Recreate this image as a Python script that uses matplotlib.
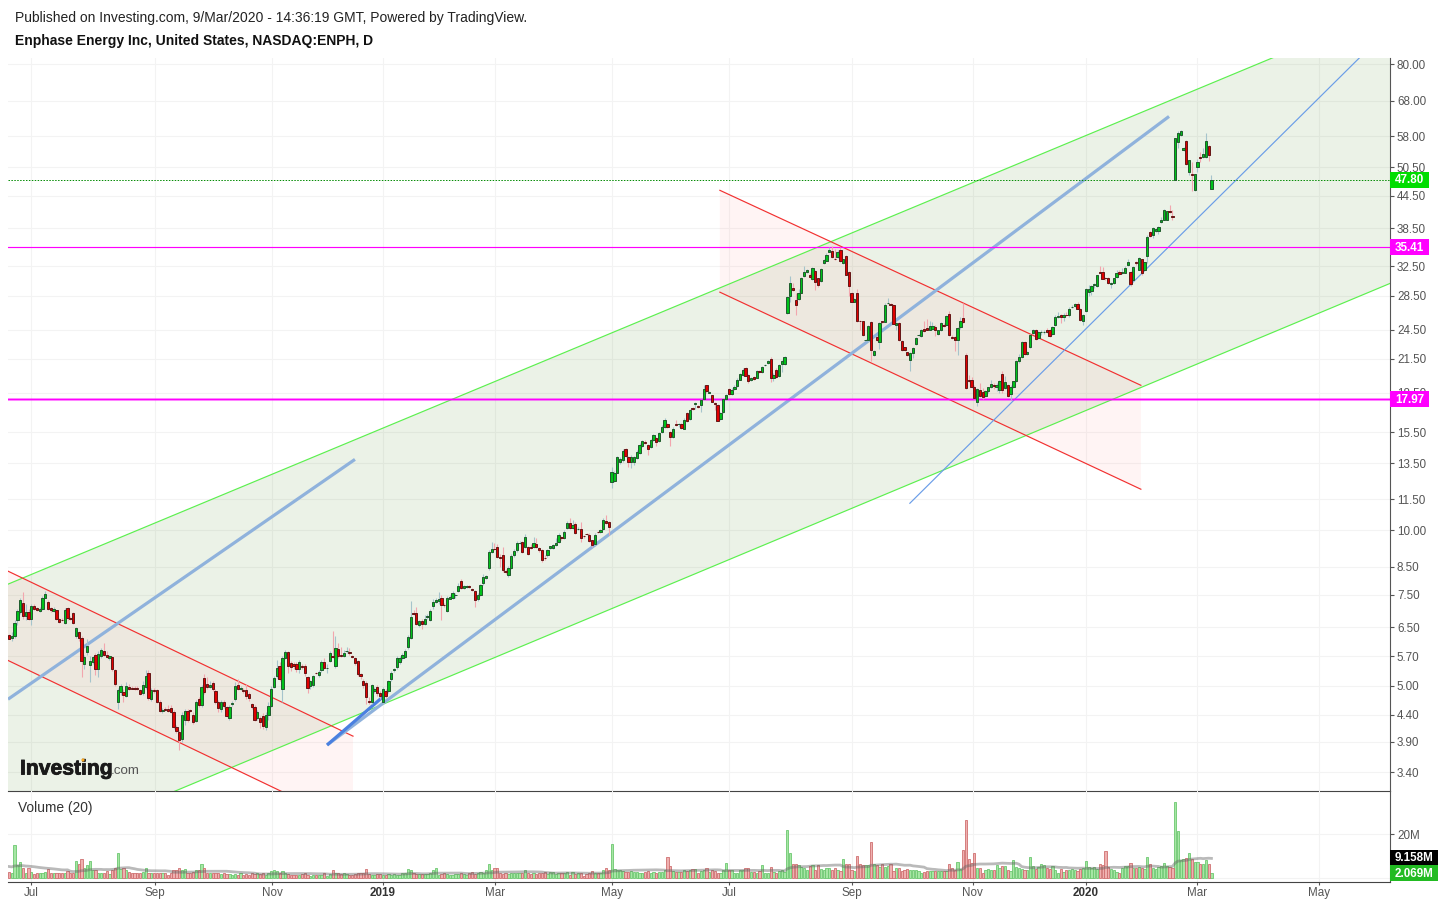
import matplotlib
matplotlib.use('Agg')
import matplotlib.pyplot as plt
import matplotlib.patheffects as pe
from matplotlib.patches import Polygon, Rectangle, Circle
from matplotlib.transforms import IdentityTransform
import numpy as np
import pandas as pd

plt.rcParams['font.family'] = ['Liberation Sans', 'DejaVu Sans']

# daily bars, prices (log scale)
opens = [
    6.27,6.18,6.24,6.72,6.95,7.25,6.82,6.95,6.74,7.15,
    7.07,6.98,7.04,7.41,7.28,7.07,6.98,7.0,6.74,6.72,
    6.62,7.07,6.77,6.92,6.24,6.35,6.19,5.5,5.82,5.48,
    5.55,5.73,5.4,5.71,5.84,5.75,5.65,5.69,5.37,4.65,
    4.87,4.87,4.78,4.97,4.96,4.96,4.96,4.9,4.85,4.98,
    5.29,4.72,4.9,4.9,4.66,4.46,4.5,4.51,4.53,4.45,
    4.16,4.07,3.94,4.29,4.47,4.48,4.4,4.28,4.71,4.6,
    5.17,5.05,4.97,5.06,4.89,4.66,4.5,4.66,4.55,4.34,
    4.61,4.72,5.01,4.93,4.91,4.91,4.82,4.61,4.56,4.34,
    4.34,4.37,4.17,4.39,4.58,4.98,5.22,5.47,4.94,5.67,
    5.82,5.53,5.5,5.5,5.38,5.47,5.47,5.2,4.99,5.01,
    5.3,5.25,5.36,5.57,5.41,5.59,5.7,5.47,5.9,5.75,
    5.71,5.84,5.82,5.7,5.65,5.58,5.27,5.12,5.06,4.68,
    4.66,4.89,4.98,4.85,4.66,4.89,4.88,5.15,5.37,5.43,
    5.55,5.66,5.68,5.95,6.2,6.91,6.93,6.55,6.69,6.58,
    6.8,6.72,7.13,7.28,7.31,7.4,7.18,6.97,7.38,7.41,
    7.49,7.65,7.99,7.75,7.78,7.82,7.69,7.63,7.35,7.5,
    7.92,8.09,8.47,9.1,9.22,9.28,8.9,8.95,8.36,8.2,
    8.47,8.95,9.16,9.45,9.5,9.3,9.3,9.27,9.3,9.43,
    9.26,9.15,8.85,8.95,9.25,9.26,9.38,9.5,9.7,9.66,
    10.1,10.32,10.12,10.28,10.05,10.08,9.75,9.84,9.82,9.57,
    9.4,9.93,9.93,10.05,10.45,10.4,12.4,12.45,12.95,13.55,
    13.67,14.4,13.9,13.55,13.6,13.8,14.12,14.6,14.85,14.65,
    14.52,14.95,15.1,14.9,15.5,15.85,16.05,15.5,15.15,16.05,
    16.05,16.07,15.75,16.85,16.45,17.3,17.6,17.45,17.5,18.0,
    19.1,18.5,18.28,17.68,17.53,16.47,16.98,17.96,18.81,18.4,
    18.76,19.07,19.6,20.0,20.6,20.05,19.6,19.83,19.75,20.4,
    20.25,20.9,21.1,21.45,19.7,20.5,19.9,21.0,21.0,26.4,
    28.5,29.55,28.0,28.1,28.9,31.1,31.7,31.2,30.7,31.8,
    30.8,30.4,32.9,33.3,34.7,34.8,33.55,33.8,35.0,32.9,
    34.0,31.7,28.9,27.75,28.9,25.45,25.4,23.35,23.35,25.3,
    21.85,23.7,23.2,25.4,25.35,27.55,27.45,27.4,25.0,25.2,
    23.3,22.65,22.15,21.35,22.1,22.95,23.87,23.8,24.6,24.7,
    24.5,24.55,24.8,24.0,24.4,25.05,25.05,26.25,23.7,23.65,
    23.35,24.75,25.75,21.85,19.55,19.55,18.95,17.7,18.7,18.55,
    18.2,18.6,18.95,19.15,19.0,18.7,20.1,18.9,19.15,18.35,
    19.0,19.5,21.25,21.65,23.2,21.95,22.65,24.1,24.5,23.55,
    24.2,24.25,24.4,24.4,24.0,25.05,25.95,26.1,25.95,26.2,
    26.1,27.1,27.2,27.45,26.85,25.4,26.6,29.0,29.1,29.95,
    29.75,31.7,31.65,30.9,30.9,30.05,30.2,31.0,31.65,31.6,
    31.6,32.7,31.7,30.5,33.05,32.0,33.5,31.9,34.0,37.8,
    37.3,38.1,38.0,39.6,40.0,40.0,41.5,40.7,47.8,56.6,
    58.3,54.6,56.9,49.5,49.0,45.6,50.7,52.9,52.8,52.9,55.5,45.9,
]
closes = [
    6.17,6.24,6.62,6.98,7.32,6.82,6.95,6.74,7.15,7.04,
    7.02,7.05,7.41,7.52,7.05,7.0,7.04,6.74,6.65,6.7,
    7.02,6.77,6.75,6.62,6.47,6.19,5.59,5.69,5.97,5.59,
    5.69,5.38,5.76,5.86,5.75,5.69,5.7,5.39,5.05,4.9,
    4.99,4.8,4.99,4.94,4.94,4.93,4.93,4.83,5.03,5.23,
    4.73,4.9,4.89,4.66,4.47,4.49,4.48,4.47,4.45,4.16,
    4.09,3.93,4.4,4.47,4.29,4.46,4.26,4.65,4.59,4.97,
    4.87,4.97,5.03,4.94,4.66,4.53,4.66,4.58,4.37,4.55,
    4.64,4.99,4.93,4.95,4.89,4.77,4.73,4.55,4.3,4.45,
    4.25,4.18,4.4,4.58,4.94,5.18,5.41,5.16,5.65,5.82,
    5.47,5.45,5.47,5.4,5.55,5.45,5.3,4.95,5.1,5.22,
    5.29,5.33,5.57,5.41,5.42,5.8,5.68,5.92,5.7,5.71,
    5.78,5.85,5.8,5.69,5.53,5.27,5.22,5.01,4.76,4.66,
    5.01,4.93,4.85,4.78,4.94,4.78,5.1,5.29,5.38,5.65,
    5.65,5.74,5.84,6.23,6.8,6.89,6.6,6.67,6.58,6.74,
    6.82,6.98,7.27,7.33,7.37,7.16,7.16,7.41,7.42,7.56,
    7.5,7.82,7.72,7.8,7.79,7.76,7.68,7.32,7.5,7.83,
    8.12,8.15,9.07,9.2,9.21,8.9,8.83,8.37,8.32,8.47,
    8.93,9.13,9.46,9.47,9.1,9.72,9.0,9.26,9.45,9.3,
    9.15,8.78,8.84,9.15,9.31,9.37,9.45,9.8,9.66,9.95,
    10.32,10.1,10.25,9.9,10.07,9.68,9.74,9.83,9.55,9.38,
    9.82,9.92,10.0,10.5,10.33,10.15,13.0,12.95,13.85,13.77,
    14.26,13.95,13.6,13.9,13.85,14.2,14.65,14.9,14.75,14.35,
    15.0,15.28,14.85,15.45,15.9,16.35,15.85,15.15,15.75,16.03,
    16.06,15.78,16.4,16.28,17.15,17.2,17.62,17.35,17.9,18.8,
    18.6,18.52,17.74,17.55,16.32,16.87,17.96,18.33,18.35,18.7,
    19.0,19.6,20.06,20.47,19.96,19.5,19.7,19.65,20.4,20.25,
    20.72,20.92,21.3,19.7,20.05,19.8,20.9,21.25,21.7,28.3,
    30.2,29.2,27.4,28.9,30.9,31.7,32.0,31.0,32.3,30.3,
    29.95,32.1,33.45,34.1,35.0,33.85,33.5,34.7,33.2,33.5,
    31.3,29.8,27.75,28.1,25.4,25.4,23.9,23.4,24.9,22.35,
    22.3,23.35,25.2,25.3,27.3,27.6,27.35,25.15,25.2,23.35,
    22.35,22.35,21.85,22.1,22.55,23.6,23.9,24.45,24.3,24.5,
    24.9,24.95,24.45,24.4,25.2,24.9,26.0,23.9,23.6,23.35,
    24.7,25.5,25.3,18.9,19.5,19.0,18.05,18.8,18.2,18.1,
    18.6,18.95,19.25,19.05,19.15,19.5,18.7,19.35,18.25,19.0,
    19.45,21.3,21.65,23.2,21.95,22.15,23.95,24.5,23.45,24.2,
    24.25,24.27,24.25,23.8,24.8,25.9,26.02,25.95,26.1,26.1,
    26.9,27.15,27.45,26.9,25.55,26.15,29.4,29.4,29.8,30.0,
    31.2,31.6,30.75,30.8,30.2,30.2,30.8,31.5,31.45,31.65,
    32.2,33.1,30.0,32.4,32.95,33.65,31.5,33.05,37.1,37.15,
    38.6,38.3,38.7,39.9,41.7,41.5,41.4,40.4,57.5,59.0,
    59.3,55.1,51.2,52.1,48.85,49.0,51.7,52.75,53.7,56.9,53.3,47.8,
]
highs = [
    6.3,6.35,6.72,7.05,7.4,7.6,7.2,7.05,7.2,7.2,
    7.1,7.12,7.45,7.62,7.32,7.1,7.1,7.02,6.78,6.76,
    7.08,7.1,6.82,6.95,6.5,6.4,6.25,5.75,6.15,5.7,
    5.72,5.78,5.85,5.92,6.05,5.85,5.75,5.72,5.4,4.95,
    5.05,4.92,5.08,5.05,5.0,5.0,5.0,4.94,5.1,5.36,
    5.36,4.95,4.95,4.92,4.7,4.52,4.55,4.6,4.6,4.48,
    4.2,4.1,4.45,4.5,4.5,4.5,4.44,4.7,4.75,5.02,
    5.28,5.2,5.1,5.12,4.92,4.7,4.7,4.7,4.58,4.6,
    4.68,5.08,5.15,5.0,4.96,5.05,4.86,4.64,4.6,4.48,
    4.38,4.42,4.45,4.65,5.0,5.22,5.6,5.55,5.72,5.88,
    5.85,5.58,5.55,5.55,5.6,5.5,5.5,5.22,5.13,5.25,
    5.33,5.36,5.62,5.65,5.5,5.85,6.4,6.25,6.05,5.95,
    5.88,5.95,5.92,5.75,5.68,5.6,5.3,5.15,5.1,4.75,
    5.05,4.97,5.02,4.88,4.98,4.94,5.14,5.35,5.42,5.72,
    5.72,5.8,5.9,6.28,7.3,7.0,7.1,6.72,6.75,6.85,
    6.88,7.05,7.35,7.4,7.6,7.5,7.22,7.48,7.5,7.62,
    7.55,7.9,8.05,7.85,7.85,7.85,7.72,7.66,7.55,7.88,
    8.25,8.2,9.15,9.5,9.45,9.4,9.0,9.3,8.42,8.55,
    9.0,9.2,9.55,9.55,9.55,9.85,9.35,9.4,9.7,9.65,
    9.3,9.2,8.95,9.2,9.35,9.42,9.65,9.88,9.75,10.0,
    10.45,10.55,10.5,10.4,10.15,10.4,9.8,9.9,9.87,9.6,
    9.88,9.98,10.05,10.55,10.7,10.45,13.3,13.05,13.95,13.85,
    14.35,14.45,13.95,14.0,13.95,14.3,14.75,15.0,15.0,14.7,
    15.05,15.4,15.15,15.5,16.0,16.5,16.15,15.55,15.85,16.4,
    16.15,16.15,16.5,16.95,17.2,17.35,17.7,17.5,18.0,19.1,
    19.15,18.6,18.32,17.72,17.58,16.95,18.0,18.4,18.85,18.85,
    19.1,19.7,20.15,20.6,20.7,20.1,19.85,19.9,20.5,20.5,
    20.85,21.0,21.4,21.65,20.2,20.6,21.0,21.35,21.75,28.4,
    31.1,30.1,28.9,29.3,31.0,32.5,32.1,31.5,32.4,32.0,
    30.9,32.2,33.6,34.4,35.41,35.6,35.1,35.0,35.41,33.6,
    34.2,31.8,29.0,28.2,29.3,25.6,25.5,23.5,25.05,25.4,
    22.4,23.8,25.3,25.5,27.6,28.2,27.6,27.5,25.3,25.3,
    23.4,22.7,22.2,22.2,22.65,23.7,24.0,24.6,25.4,25.7,
    25.5,25.3,25.0,24.5,25.3,25.2,26.1,26.6,23.9,23.8,
    24.8,25.9,27.6,22.1,20.0,19.8,19.1,18.9,19.3,18.9,
    18.7,19.0,19.6,19.3,19.3,19.6,20.4,19.9,19.2,19.1,
    19.5,21.4,22.0,23.3,23.3,22.25,24.0,24.6,24.6,24.3,
    24.4,24.45,24.7,24.6,24.9,26.1,26.5,26.3,26.4,26.5,
    27.1,27.4,27.6,27.7,27.0,26.3,29.5,29.9,29.9,30.2,
    31.3,32.5,32.4,31.0,31.0,30.3,30.9,31.9,32.0,32.3,
    32.5,33.5,31.8,32.5,33.2,33.8,33.6,33.15,37.3,38.1,
    38.7,38.5,38.9,40.4,41.9,41.6,42.7,41.8,57.6,59.4,
    59.6,55.3,57.2,52.3,51.8,49.1,52.5,54.0,55.0,59.0,55.9,48.9,
]
lows = [
    6.15,6.12,6.18,6.55,6.88,6.75,6.7,6.7,6.55,7.0,
    6.98,6.95,7.0,7.4,7.0,6.95,6.95,6.72,6.62,6.68,
    6.58,6.72,6.72,6.6,6.18,6.12,5.2,5.38,5.75,5.08,
    5.5,5.25,5.2,5.65,5.7,5.65,5.6,5.35,5.0,4.5,
    4.8,4.65,4.75,4.9,4.92,4.9,4.9,4.8,4.8,4.92,
    4.7,4.68,4.85,4.63,4.44,4.42,4.46,4.45,4.42,4.12,
    4.05,3.75,3.9,4.2,4.25,4.44,4.22,4.25,4.55,4.55,
    4.82,4.92,4.95,4.88,4.62,4.45,4.45,4.53,4.35,4.3,
    4.58,4.68,4.9,4.9,4.85,4.72,4.68,4.5,4.28,4.3,
    4.15,4.12,4.1,4.3,4.55,4.95,5.18,5.12,4.65,5.63,
    5.3,5.35,5.4,5.33,5.3,5.4,5.22,4.85,4.92,4.98,
    5.27,5.2,5.33,5.38,5.3,5.55,5.65,5.42,5.65,5.68,
    5.68,5.8,5.75,5.65,5.48,5.22,5.15,4.95,4.62,4.62,
    4.62,4.85,4.78,4.72,4.62,4.73,4.85,5.1,5.33,5.38,
    5.5,5.6,5.65,5.9,6.15,6.85,6.55,6.5,6.45,6.55,
    6.75,6.68,7.05,7.25,7.2,6.7,7.1,6.95,7.35,7.35,
    7.4,7.6,7.7,7.7,7.72,7.72,7.62,7.1,7.3,7.45,
    7.85,8.05,8.4,9.05,9.15,8.85,8.5,8.3,8.25,8.12,
    8.42,8.9,9.1,9.4,9.05,9.25,8.95,9.2,9.25,9.25,
    9.1,8.7,8.75,8.9,9.2,9.22,9.35,9.45,9.6,9.62,
    10.05,10.05,10.08,9.85,10.0,9.5,9.68,9.8,9.5,9.3,
    9.35,9.88,9.88,10.0,10.28,9.8,12.06,12.4,12.9,13.45,
    13.6,13.85,13.25,13.2,13.4,13.75,14.05,14.5,14.7,14.0,
    14.45,14.9,14.6,14.85,15.45,15.8,15.8,14.6,15.1,15.95,
    15.9,15.7,15.7,16.2,16.4,17.1,17.2,17.3,17.0,17.9,
    18.5,18.45,17.7,17.1,16.28,16.4,16.9,17.9,18.3,18.3,
    18.7,19.0,19.55,19.9,19.9,19.3,19.45,19.55,19.7,20.2,
    20.15,20.8,21.0,19.35,19.5,19.7,19.8,20.3,20.95,26.3,
    27.7,29.1,26.1,27.9,28.85,31.0,31.6,30.9,30.6,29.2,
    29.6,30.35,32.8,33.2,34.6,33.75,33.4,33.7,33.1,32.8,
    31.2,28.5,27.7,27.7,25.3,24.5,23.8,23.3,23.2,21.3,
    21.8,23.3,22.5,25.2,25.3,27.5,27.3,25.1,24.4,23.3,
    22.3,22.25,21.75,20.4,21.6,22.85,23.8,23.7,24.2,24.4,
    24.4,24.4,23.85,23.9,24.3,24.8,24.95,23.85,23.5,22.3,
    21.9,24.6,25.2,18.8,19.4,18.9,17.95,17.4,18.1,17.95,
    18.1,18.5,18.9,18.8,18.65,18.5,18.5,18.8,18.15,17.9,
    18.9,19.4,21.15,21.6,21.85,21.85,22.6,24.0,23.35,23.45,
    23.9,24.05,24.1,23.7,23.9,24.95,25.8,25.2,25.5,26.0,
    25.9,27.0,27.1,26.85,25.5,25.0,26.5,28.4,28.6,29.5,
    29.6,31.5,30.7,30.5,30.0,29.5,30.0,30.8,31.3,31.4,
    31.5,32.5,29.8,30.4,32.7,31.9,31.2,31.8,33.0,37.0,
    36.9,37.9,37.6,39.4,39.9,39.9,41.2,40.0,47.7,55.0,
    58.0,54.4,51.1,48.8,45.4,45.5,49.5,51.8,52.6,52.7,51.9,45.8,
]
# volume in millions
volumes = [
    2.6,2.0,15,5.7,7,4.6,2.2,4.2,2.6,1.6,
    1.9,1.9,2.3,2.5,3.9,2.3,2.3,1.9,2.3,2.3,
    1.9,2.8,2.2,2.3,7.6,6.2,8.5,4.6,5.7,7.6,
    3.4,3.4,2.3,1.9,1.9,2.8,1.7,3.4,4.6,11.3,
    3.9,4.6,3.4,2.6,1.9,1.9,2.2,1.9,2.5,4.2,
    1.9,1.9,1.9,2,2,2,1.9,1.2,1.9,3.4,
    3.7,4.2,3.4,3.9,2.3,2,2.6,3.5,3.5,6.2,
    4.2,2,1.9,2.3,1.9,1.9,1.5,1.9,1.7,1.7,
    1.2,1.5,1.3,1.9,1.2,1.4,1.0,1.9,1.5,1.9,
    1.5,1.9,1.2,1.9,2.8,3.4,2.8,2.2,3.0,2.0,
    1.5,1.3,1.2,1.2,1.2,1.5,1.9,1.0,0.9,1.2,
    1.3,1.0,1.3,1.9,0.9,1.5,3.4,2.0,1.9,1.5,
    1.9,1.5,1.2,1.2,1.5,1.9,2.3,2.0,3.8,1.6,
    1.2,1.0,1.6,1.5,1.2,1.3,1.6,1.3,1.5,1.0,
    1.2,1.9,2.3,3.8,3.4,2.3,1.5,1.5,1.6,1.6,
    1.6,2.0,3.3,4.2,1.3,1.7,1.9,1.7,1.2,1.0,
    1.7,1.6,2.3,1.6,1.3,2.3,2.6,1.6,1.9,2.6,
    2.0,3.3,6.2,3.6,4.4,4.4,2.2,1.6,2.0,1.5,
    2.0,2.3,2.0,2.0,1.9,3.4,2.0,1.6,2.0,1.6,
    2.0,1.9,2.6,1.6,2.6,2.6,1.6,2.3,2.3,2.0,
    2.6,1.2,2.6,1.5,1.9,2.0,0.9,1.6,2.0,2.8,
    2.3,2.0,2.3,3.4,4.4,3.6,15.5,3.8,3.6,3.6,
    3.0,2.6,2.6,3.0,2.6,2.6,2.3,2.3,2.6,3.0,
    2.3,2.6,2.0,2.6,2.6,3.4,9.7,5.3,3.0,2.6,
    2.6,2.6,3.4,3.0,3.4,3.9,4.1,2.3,3.0,3.4,
    4.2,2.6,3.4,3.0,2.3,2.0,3.4,6.8,3.4,3.4,
    1.9,2.2,3.7,3.4,4.6,4.2,2.6,2.6,2.2,2.9,
    5.7,1.9,2.0,5.0,2.6,2.2,2.9,3.7,2.6,22,
    11.6,6.5,6.5,5.7,5.0,4.6,3.4,5.2,5.7,3.4,
    5.7,3.9,3.4,4.6,4.2,3.4,4.4,3.5,3.0,8.4,
    6.5,6.5,3.7,3.0,9.9,6.2,5.7,5.7,5.7,16.4,
    6.2,5.7,5.0,6.2,5.0,5.2,6.2,2.9,4.2,4.6,
    2.9,3.4,3.9,3.4,3.7,3.7,2.8,2.2,2.6,2.8,
    2.9,2.9,3.2,3.0,3.0,2.9,3.0,6.5,4.6,3.7,
    7.0,4.0,13,26.7,8.8,6.8,11.6,4.6,4.2,2.3,
    3.4,3.9,3.3,3.7,5.7,4.6,5.2,5.2,3.4,3.0,
    8.0,5.0,4.6,4.0,3.6,3.5,9.5,5.2,3.9,5.0,
    6.2,5.7,4.6,3.9,5.2,3.4,1.9,3.9,2.6,3.7,
    3.7,4.0,3.5,3.0,4.0,4.2,7.6,5.0,4.2,5.0,
    4.0,6.2,6.0,12.2,5.0,3.9,3.4,2.6,2.2,4.6,
    5.5,5.5,6.8,4.2,4.2,5.0,4.5,4.0,9.6,6.5,
    4.2,3.9,5.0,5.2,6.8,5.2,5.0,4.5,35,21.5,
    8.0,8.5,9.0,11.2,8.8,7.3,7.0,6.5,6.5,8.0,6.5,2.069,
]
# bars left of the frame, only feed the 20 bar average
volume_before = [5.5,6,5,4.5,5,6,5.5,5,4.5,6,5,5.5,5,6,5,4.5,5,5.5,5]

price_ticks = [80,68,58,50.5,44.5,38.5,32.5,28.5,24.5,21.5,18.5,15.5,13.5,11.5,10,8.5,7.5,6.5,5.7,5,4.4,3.9,3.4]
month_bars = [8,52.3,94.3,134,174.2,216,258,302,345.5,386,426,469.5]
month_labels = ['Jul','Sep','Nov','2019','Mar','May','Jul','Sep','Nov','2020','Mar','May']

# drawings, (bar, price) end points
green_upper = ([-0.36,495],[7.87,102.4])
green_lower = ([-0.36,495],[2.29,30.1])
red1_upper = ([-0.36,123.3],[8.34,3.995])
red1_lower = ([-0.36,123.3],[5.6,2.68])
red2_upper = ([254.8,405.7],[45.6,19.11])
red2_lower = ([254.8,405.7],[28.95,12.02])
blue_short = ([-0.36,124],[4.71,13.73])
blue_long = ([114,415.8],[3.84,63.4])
blue_long_start = ([114,134],[3.84,4.76])
blue_thin = ([322.9,484.2],[11.29,82.5])
level_high = 35.41
level_low = 17.97
last_price = 47.80
last_ma = '9.158M'
last_vol = '2.069M'

assert len(opens) == len(closes) == len(highs) == len(lows) == len(volumes)

W, H = 1445, 906
PRICE_LIM = (3.128, 82.28)
fig = plt.figure(figsize=(W/100, H/100), dpi=100)
ax = fig.add_axes([8/W, 1-791/H, 1382/W, 733/H])
vax = fig.add_axes([8/W, 1-882/H, 1382/W, 91/H])

x = np.arange(len(opens))
o, c, hi, lo = map(np.array, (opens, closes, highs, lows))
up = c >= o

ax.set_yscale('log')
ax.set_xlim(-0.36, 495)
ax.set_ylim(*PRICE_LIM)
vax.set_xlim(-0.36, 495)
vax.set_ylim(-2.09, 40.2)

GRID = '#f3f3f3'
for a in (ax, vax):
    a.set_xticks(month_bars)
    a.grid(True, axis='x', color=GRID, lw=0.75)
    a.set_axisbelow(True)
    for s in ('left', 'top', 'bottom'):
        a.spines[s].set_visible(False)
    a.spines['right'].set_color('#555555')
    a.yaxis.tick_right()

ax.set_yticks(price_ticks)
ax.set_yticklabels(['%.2f' % p for p in price_ticks])
ax.minorticks_off()
ax.grid(True, axis='y', color=GRID, lw=0.75)
ax.tick_params(axis='x', length=0, labelbottom=False)
ax.tick_params(axis='y', length=3, width=0.8, color='#555555', labelcolor='#555555', labelsize=8.4, pad=2)
ax.spines['bottom'].set_visible(True)
ax.spines['bottom'].set_color('#444444')

# channels
ax.add_patch(Polygon([(green_upper[0][0], green_upper[1][0]), (green_upper[0][1], green_upper[1][1]),
                      (green_lower[0][1], green_lower[1][1]), (green_lower[0][0], green_lower[1][0])],
                     fc=(0.3,0.55,0.15), alpha=0.11, lw=0, zorder=1))
for up_line, low_line in ((red1_upper, red1_lower), (red2_upper, red2_lower)):
    ax.add_patch(Polygon([(up_line[0][0], up_line[1][0]), (up_line[0][1], up_line[1][1]),
                          (low_line[0][1], low_line[1][1]), (low_line[0][0], low_line[1][0])],
                         fc=(1,0.6,0.6), alpha=0.10, lw=0, zorder=1.1))
for line in (green_upper, green_lower):
    ax.plot(line[0], line[1], color='#5cf04f', lw=0.85, zorder=2)
for line in (red1_upper, red1_lower, red2_upper, red2_lower):
    ax.plot(line[0], line[1], color='#f23030', lw=0.85, zorder=2)
ax.plot(blue_short[0], blue_short[1], color='#8fb2dc', lw=2.3, zorder=2, solid_capstyle='butt')
ax.plot(blue_long[0], blue_long[1], color='#8fb2dc', lw=2.3, zorder=2, solid_capstyle='butt')
ax.plot(blue_long_start[0], blue_long_start[1], color='#4a80e0', lw=2.3, zorder=2.1, solid_capstyle='butt')
ax.plot(blue_thin[0], blue_thin[1], color='#6a9de8', lw=0.85, zorder=2)

ax.axhline(level_high, color='#ff00ff', lw=0.85, zorder=2.2)
ax.axhline(level_low, color='#ff00ff', lw=2.2, alpha=0.35, zorder=2.2)
ax.axhline(level_low, color='#ff00ff', lw=1.0, zorder=2.3)
ax.axhline(last_price, color='#008a00', lw=0.7, ls=(0, (1.5, 1.5)), zorder=2.2)

# candles
ax.vlines(x[up], lo[up], hi[up], color='#a5c4cc', lw=0.8, zorder=3)
ax.vlines(x[~up], lo[~up], hi[~up], color='#f2a6ae', lw=0.8, zorder=3)
bottoms = np.minimum(o, c)
heights = np.abs(c - o)
ax.bar(x[up], heights[up], bottom=bottoms[up], width=0.82, color='#00c21a', edgecolor='#1f5a2c', lw=0.7, zorder=4)
ax.bar(x[~up], heights[~up], bottom=bottoms[~up], width=0.82, color='#e00000', edgecolor='#641616', lw=0.7, zorder=4)
ax.set_xlim(-0.36, 495)
ax.set_ylim(*PRICE_LIM)

# logo
logo = fig.text(20/W, 1-769/H, 'Investing', fontsize=15.2, fontweight='bold', color='#1a1a1a', va='center', ha='left', zorder=10)
logo.set_path_effects([pe.withStroke(linewidth=0.6, foreground='#1a1a1a')])
fig.text(111/W, 1-771/H, '.com', fontsize=9.6, color='#555555', va='center', ha='left', zorder=10)
fig.patches.append(Circle((83, H-760), 1.6, fc='#f5a623', ec='none', transform=IdentityTransform(), zorder=11, figure=fig))

# volume panel
vols = np.array(volumes)
vax.axhline(0, color=GRID, lw=0.75, zorder=0.5)
vax.grid(True, axis='y', color=GRID, lw=0.75)
vax.set_yticks([20])
vax.set_yticklabels(['20M'])
vax.tick_params(axis='y', length=3, width=0.8, color='#555555', labelcolor='#555555', labelsize=8.4, pad=2)
vax.spines['bottom'].set_visible(True)
vax.spines['bottom'].set_color('#444444')
vax.patch.set_alpha(0)
vax.bar(x[up], vols[up], width=0.8, color='#a6e6a4', edgecolor='#6cc76f', lw=0.6, zorder=2)
vax.bar(x[~up], vols[~up], width=0.8, color='#efb0b0', edgecolor='#cf6f70', lw=0.6, zorder=2)
ma = pd.Series(volume_before + volumes).rolling(20).mean().values[len(volume_before):]
vax.plot(x, ma, color='#666666', lw=2.0, alpha=0.45, zorder=3)
vax.set_xticklabels(month_labels)
vax.tick_params(axis='x', length=2, width=0.8, color='#555555', labelcolor='#555555', labelsize=8.4, pad=1.5)
for lab in vax.get_xticklabels():
    if lab.get_text() in ('2019', '2020'):
        lab.set_fontweight('bold')
        lab.set_color('#333333')

# value tags on the scale, placed after the axes know their scale
def price_tag(a, value, text, color, width_px):
    yd = a.transData.transform((0, value))[1]
    fig.patches.append(Rectangle((1390, yd-8), width_px, 16, fc=color, ec='none',
                                 transform=IdentityTransform(), zorder=5, figure=fig))
    fig.text((1390+width_px/2)/W, (yd-0.5)/H, text, color='white', fontsize=8.4, fontweight='bold',
             ha='center', va='center', zorder=6)

price_tag(ax, last_price, '47.80', '#00dd00', 39)
price_tag(ax, level_high, '35.41', '#ff00ff', 39)
price_tag(ax, level_low, '17.97', '#ff00ff', 39)
price_tag(vax, 9.158, last_ma, '#000000', 48)
price_tag(vax, 2.069, last_vol, '#22bb22', 48)

fig.text(18/W, 1-808/H, 'Volume (20)', fontsize=9.9, color='#333333', va='center', ha='left')

# header
fig.text(15/W, 1-18/H, 'Published on Investing.com, 9/Mar/2020 - 14:36:19 GMT, Powered by TradingView.', fontsize=9.97, color='#222222', va='center', ha='left')
fig.text(15/W, 1-41/H, 'Enphase Energy Inc, United States, NASDAQ:ENPH, D', fontsize=10.04, fontweight='bold', color='#111111', va='center', ha='left')

fig.savefig('out.png', dpi=100)
